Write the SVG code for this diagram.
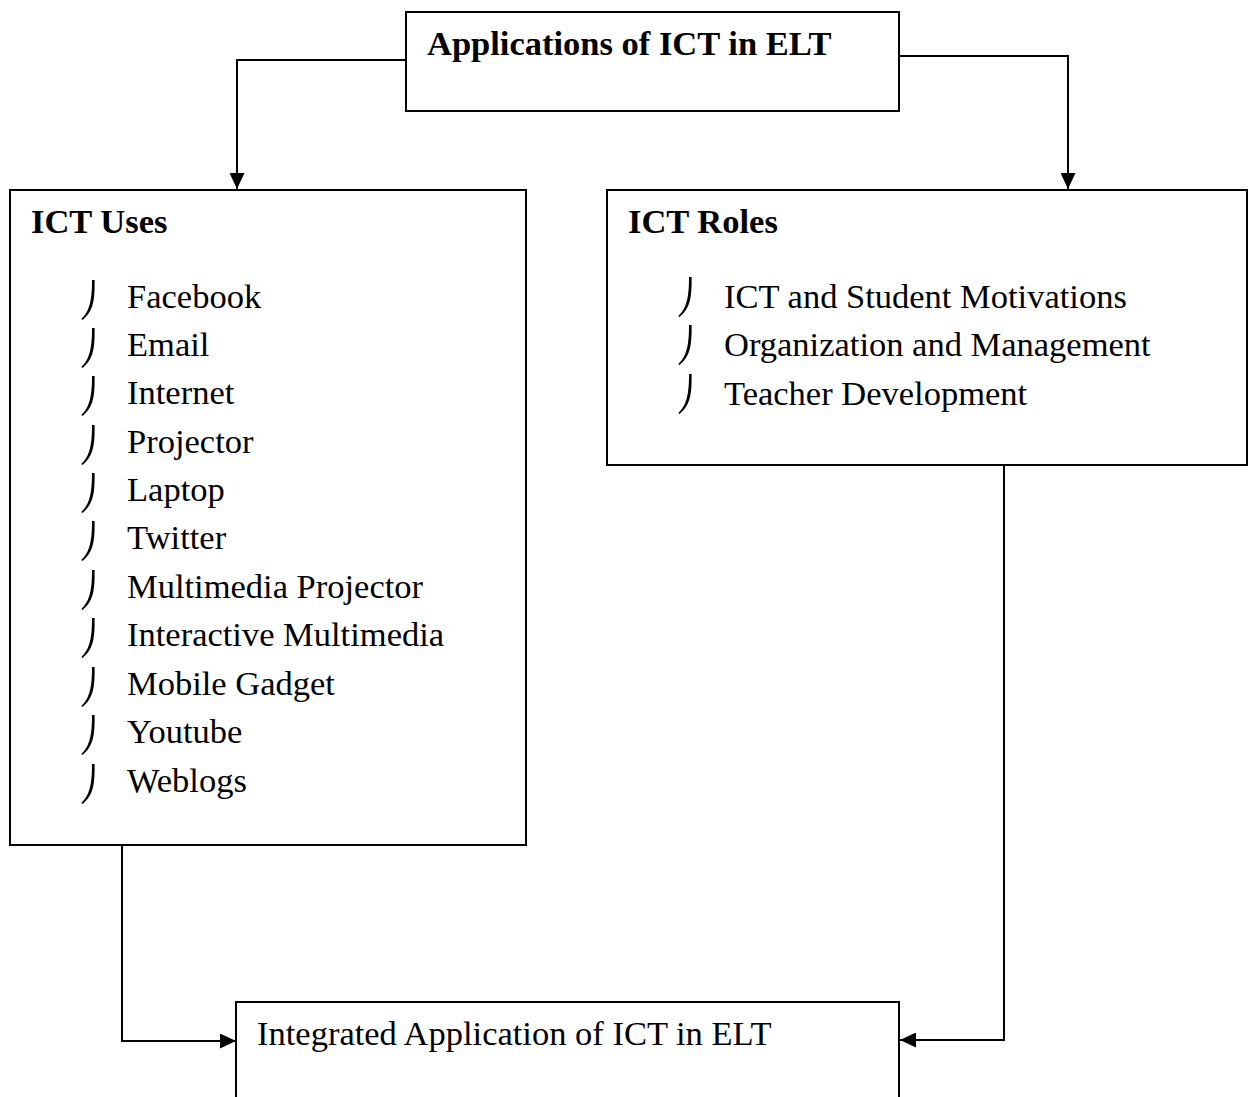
<svg xmlns="http://www.w3.org/2000/svg" xmlns:xlink="http://www.w3.org/1999/xlink" width="1249" height="1097" viewBox="0 0 1249 1097">
<style>
.box{fill:#fff;stroke:#000;stroke-width:2}
.t{font-family:"Liberation Serif","Times New Roman",serif;font-size:34.5px;fill:#000}
.b{font-weight:bold}
.c{fill:none;stroke:#000;stroke-width:2}
</style>
<defs>
<marker id="ah" viewBox="0 0 10 10" refX="10" refY="5" markerWidth="16" markerHeight="15" markerUnits="userSpaceOnUse" orient="auto" preserveAspectRatio="none">
<path d="M0,0 L10,5 L0,10 Z" fill="#000"/>
</marker>
<path id="bl" d="M11,0 L13.6,0 C13.8,20 12.5,31 1.5,40 L0.3,39 C8.5,31 11,21 11,0 Z" fill="#000"/>
</defs>
<rect width="1249" height="1097" fill="#fff"/>
<g id="connectors">
<path class="c" d="M406,60 H237 V189" marker-end="url(#ah)"/>
<path class="c" d="M899,56 H1068 V189" marker-end="url(#ah)"/>
<path class="c" d="M122,845 V1041 H236" marker-end="url(#ah)"/>
<path class="c" d="M1004,465 V1040 H900" marker-end="url(#ah)"/>
</g>
<g id="top">
<rect class="box" x="406" y="12" width="493" height="99"/>
<text class="t b" x="427" y="55">Applications of ICT in ELT</text>
</g>
<g id="uses">
<rect class="box" x="10" y="190" width="516" height="655"/>
<text class="t b" x="31" y="233">ICT Uses</text>
<use xlink:href="#bl" x="81" y="280"/><text class="t" x="127" y="308">Facebook</text>
<use xlink:href="#bl" x="81" y="328"/><text class="t" x="127" y="356">Email</text>
<use xlink:href="#bl" x="81" y="376"/><text class="t" x="127" y="404">Internet</text>
<use xlink:href="#bl" x="81" y="425"/><text class="t" x="127" y="453">Projector</text>
<use xlink:href="#bl" x="81" y="473"/><text class="t" x="127" y="501">Laptop</text>
<use xlink:href="#bl" x="81" y="521"/><text class="t" x="127" y="549">Twitter</text>
<use xlink:href="#bl" x="81" y="570"/><text class="t" x="127" y="598">Multimedia Projector</text>
<use xlink:href="#bl" x="81" y="618"/><text class="t" x="127" y="646">Interactive Multimedia</text>
<use xlink:href="#bl" x="81" y="667"/><text class="t" x="127" y="695">Mobile Gadget</text>
<use xlink:href="#bl" x="81" y="715"/><text class="t" x="127" y="743">Youtube</text>
<use xlink:href="#bl" x="81" y="764"/><text class="t" x="127" y="792">Weblogs</text>
</g>
<g id="roles">
<rect class="box" x="607" y="190" width="640" height="275"/>
<text class="t b" x="628" y="233">ICT Roles</text>
<use xlink:href="#bl" x="678" y="277"/><text class="t" x="724" y="308">ICT and Student Motivations</text>
<use xlink:href="#bl" x="678" y="325"/><text class="t" x="724" y="356">Organization and Management</text>
<use xlink:href="#bl" x="678" y="374"/><text class="t" x="724" y="405">Teacher Development</text>
</g>
<g id="integrated">
<path class="box" d="M236,1100 V1002 H899 V1100"/>
<text class="t" x="257" y="1045">Integrated Application of ICT in ELT</text>
</g>
</svg>
